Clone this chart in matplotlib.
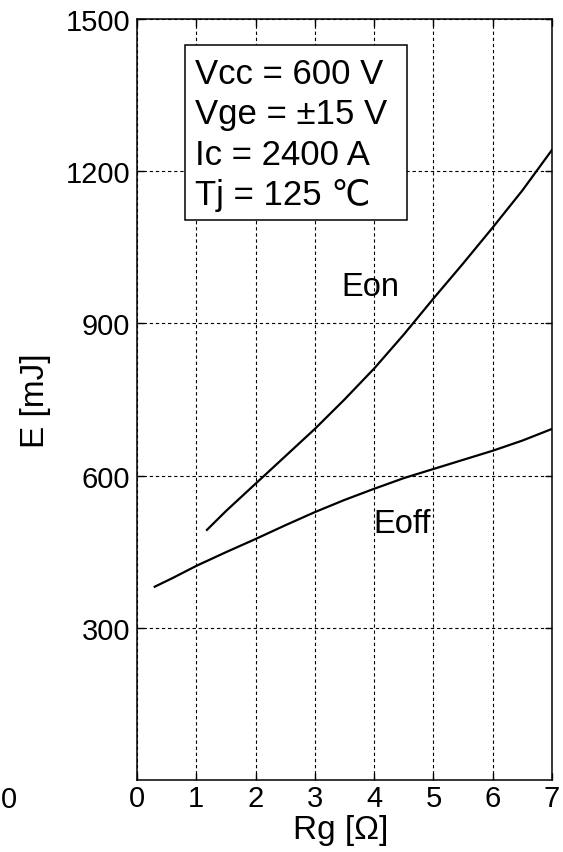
import matplotlib
matplotlib.use("Agg")
import matplotlib.pyplot as plt
from matplotlib.patches import Rectangle

# Rg [ohm] vs switching energy [mJ]
rg_on = [1.18, 1.5, 2.0, 2.5, 3.0, 3.5, 4.0, 4.5, 5.0, 5.5, 6.0, 6.5, 7.0]
e_on = [493, 530, 584, 638, 692, 750, 811, 878, 949, 1018, 1089, 1162, 1242]

rg_off = [0.3, 0.6, 1.0, 1.5, 2.0, 2.5, 3.0, 3.5, 4.0, 4.5, 5.0, 5.5, 6.0, 6.5, 7.0]
e_off = [381, 398, 422, 449, 475, 502, 528, 552, 574, 595, 613, 631, 649, 669, 692]

x_ticks = [0, 1, 2, 3, 4, 5, 6, 7]
y_ticks = [300, 600, 900, 1200, 1500]
conditions = ["Vcc = 600 V", "Vge = \u00b115 V", "Ic = 2400 A", "Tj = 125 \u2103"]

plt.rcParams["font.family"] = ["Liberation Sans", "DejaVu Sans"]

fig = plt.figure(figsize=(5.63, 8.53), dpi=100)
ax = fig.add_axes([0.2433, 0.0844, 0.7372, 0.8922])

ax.plot(rg_on, e_on, color="black", lw=1.6, zorder=3)
ax.plot(rg_off, e_off, color="black", lw=1.6, zorder=3)

ax.set_xlim(0, 7)
ax.set_ylim(0, 1500)
ax.set_xticks(x_ticks)
ax.set_yticks(y_ticks)
ax.tick_params(direction="in", labelsize=21, length=5, top=True, right=True, width=1)
ax.tick_params(axis="x", pad=3)
ax.tick_params(axis="y", pad=5)
ax.grid(True, color="black", linestyle=(0, (3, 2.5)), lw=0.8)
for s in ax.spines.values():
    s.set_linewidth(1.1)

ax.set_xlabel("Rg [\u03a9]", fontsize=24)
ax.xaxis.set_label_coords(0.49, -0.045)
ax.set_ylabel("E [mJ]", fontsize=24)
ax.yaxis.set_label_coords(-0.207, 0.5)
fig.text(8.5 / 563, 1 - 800 / 853, "0", fontsize=21, ha="center", va="center")

ax.text(3.93, 955, "Eon", fontsize=23.5, ha="center", va="baseline")
ax.text(4.47, 489, "Eoff", fontsize=23.5, ha="center", va="baseline")

# conditions box
ax.add_patch(Rectangle((0.81, 1103), 3.74, 345, fc="white", ec="black",
                       lw=1.1, zorder=4))
for i, line in enumerate(conditions):
    ax.text(0.98, 1373 - i * 79, line, fontsize=25, ha="left", va="baseline",
            zorder=5)

fig.savefig("out.png", dpi=100)
